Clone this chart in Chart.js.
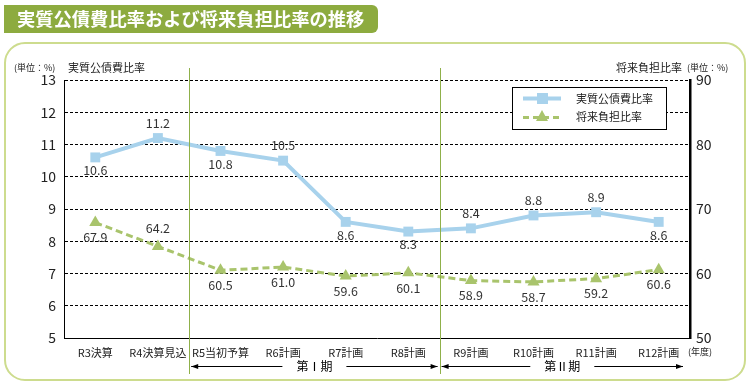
<!DOCTYPE html>
<html>
<head>
<meta charset="utf-8">
<script src="https://cdn.jsdelivr.net/npm/chart.js@4"></script>
<style>
  html, body { margin: 0; padding: 0; background: #fff; }
  #wrap { width: 752px; height: 387px; position: relative; }
</style>
</head>
<body>
<div id="wrap"><canvas id="chart" width="752" height="387"></canvas></div>
<script>
"use strict";

const years = ['R3決算', 'R4決算見込', 'R5当初予算', 'R6計画', 'R7計画', 'R8計画', 'R9計画', 'R10計画', 'R11計画', 'R12計画'];
const debtRatio = [10.6, 11.2, 10.8, 10.5, 8.6, 8.3, 8.4, 8.8, 8.9, 8.6];
const burdenRatio = [67.9, 64.2, 60.5, 61.0, 59.6, 60.1, 58.9, 58.7, 59.2, 60.6];
// label above (-1) or below (+1) each point
const debtLabelSide = [1, -1, 1, -1, 1, 1, -1, -1, -1, 1];
const burdenLabelSide = [1, -1, 1, 1, 1, 1, 1, 1, 1, 1];

const FONT = '"Noto Sans CJK JP", "Noto Sans", sans-serif';
const BLUE = '#a8d2ec';
const GREEN = '#a9c46c';

function roundRect(ctx, x, y, w, h, r) {
    ctx.beginPath();
    ctx.moveTo(x + r, y);
    ctx.lineTo(x + w - r, y);
    ctx.arcTo(x + w, y, x + w, y + r, r);
    ctx.lineTo(x + w, y + h - r);
    ctx.arcTo(x + w, y + h, x + w - r, y + h, r);
    ctx.lineTo(x + r, y + h);
    ctx.arcTo(x, y + h, x, y + h - r, r);
    ctx.lineTo(x, y + r);
    ctx.arcTo(x, y, x + r, y, r);
    ctx.closePath();
}

function arrowHead(ctx, x, y, dir) {
    ctx.beginPath();
    ctx.moveTo(x, y);
    ctx.lineTo(x - dir * 7, y - 2.5);
    ctx.lineTo(x - dir * 7, y + 2.5);
    ctx.closePath();
    ctx.fill();
}

const decor = {
    id: 'decor',
    beforeDraw(chart) {
        const ctx = chart.ctx;
        ctx.save();
        // outer frame
        roundRect(ctx, 5, 43, 740, 337, 20);
        ctx.strokeStyle = '#cddc8e';
        ctx.lineWidth = 2;
        ctx.stroke();
        // title banner
        ctx.fillStyle = '#8dab3f';
        roundRect(ctx, 4, 5, 374, 28, 6);
        ctx.fill();
        ctx.fillRect(4, 5, 20, 28);
        ctx.fillStyle = '#fff';
        ctx.font = 'bold 18.3px ' + FONT;
        ctx.textBaseline = 'middle';
        ctx.textAlign = 'left';
        ctx.fillText('実質公債費比率および将来負担比率の推移', 17, 19.5);
        ctx.restore();
    },
    afterDatasetsDraw(chart) {
        const ctx = chart.ctx;
        const x = chart.scales.x;
        const area = chart.chartArea;
        ctx.save();

        // period separators
        const sep1 = (x.getPixelForValue(1) + x.getPixelForValue(2)) / 2;
        const sep2 = (x.getPixelForValue(5) + x.getPixelForValue(6)) / 2;
        ctx.strokeStyle = '#8fb04a';
        ctx.lineWidth = 1;
        [sep1, sep2].forEach(sx => {
            ctx.beginPath();
            ctx.moveTo(Math.round(sx) + 0.5, 68);
            ctx.lineTo(Math.round(sx) + 0.5, 374);
            ctx.stroke();
        });

        // period arrows
        const ay = 366.5;
        const periods = [[sep1 + 2, sep2 - 2, '第Ⅰ期'], [sep2 + 2, area.right - 7, '第Ⅱ期']];
        ctx.strokeStyle = '#000';
        ctx.fillStyle = '#000';
        ctx.font = '12px ' + FONT;
        ctx.textAlign = 'center';
        ctx.textBaseline = 'middle';
        periods.forEach(([a, b, t]) => {
            const mid = (a + b) / 2;
            ctx.beginPath();
            ctx.moveTo(a, ay); ctx.lineTo(mid - 32, ay);
            ctx.moveTo(mid + 32, ay); ctx.lineTo(b, ay);
            ctx.stroke();
            arrowHead(ctx, a, ay, -1);
            arrowHead(ctx, b, ay, 1);
            ctx.fillText(t, mid, ay);
        });

        // axis titles
        ctx.fillStyle = '#222';
        ctx.font = '9px ' + FONT;
        ctx.textAlign = 'left';
        ctx.fillText('(単位：%)', 14, 68);
        ctx.font = '11px ' + FONT;
        ctx.fillText('実質公債費比率', 68, 68);
        ctx.textAlign = 'right';
        ctx.fillText('将来負担比率', 682, 68);
        ctx.font = '9px ' + FONT;
        ctx.textAlign = 'left';
        ctx.fillText('(単位：%)', 687, 68);
        ctx.fillText('(年度)', 688, 352);

        // data labels
        ctx.fillStyle = '#333';
        ctx.font = '12.5px ' + FONT;
        ctx.textAlign = 'center';
        const m0 = chart.getDatasetMeta(0).data;
        m0.forEach((p, i) => {
            const off = debtLabelSide[i] < 0 ? -15 : 13;
            ctx.fillText(debtRatio[i].toFixed(1), p.x, p.y + off);
        });
        const m1 = chart.getDatasetMeta(1).data;
        m1.forEach((p, i) => {
            const off = burdenLabelSide[i] < 0 ? -18 : 15;
            ctx.fillText(burdenRatio[i].toFixed(1), p.x, p.y + off);
        });

        // legend box
        ctx.fillStyle = '#fff';
        ctx.fillRect(512, 87, 155, 43);
        ctx.strokeStyle = '#000';
        ctx.lineWidth = 1;
        ctx.strokeRect(512.5, 87.5, 154, 42);
        ctx.strokeStyle = BLUE;
        ctx.lineWidth = 4;
        ctx.beginPath(); ctx.moveTo(523, 98.5); ctx.lineTo(561, 98.5); ctx.stroke();
        ctx.fillStyle = BLUE;
        ctx.fillRect(537, 93, 11, 11);
        ctx.strokeStyle = GREEN;
        ctx.lineWidth = 3;
        ctx.setLineDash([6, 4]);
        ctx.beginPath(); ctx.moveTo(523, 117.5); ctx.lineTo(561, 117.5); ctx.stroke();
        ctx.setLineDash([]);
        ctx.fillStyle = GREEN;
        ctx.beginPath();
        ctx.moveTo(542, 110); ctx.lineTo(548, 121); ctx.lineTo(536, 121); ctx.closePath();
        ctx.fill();
        ctx.fillStyle = '#222';
        ctx.font = '11px ' + FONT;
        ctx.textAlign = 'left';
        ctx.fillText('実質公債費比率', 576, 99);
        ctx.fillText('将来負担比率', 576, 117);

        ctx.restore();
    }
};

new Chart(document.getElementById('chart'), {
    type: 'line',
    data: {
        labels: years,
        datasets: [{
            label: '実質公債費比率',
            data: debtRatio,
            yAxisID: 'y',
            borderColor: BLUE,
            backgroundColor: BLUE,
            borderWidth: 4,
            pointStyle: 'rect',
            pointRadius: 7,
            pointBorderWidth: 0,
            tension: 0
        }, {
            label: '将来負担比率',
            data: burdenRatio,
            yAxisID: 'y1',
            borderColor: GREEN,
            backgroundColor: GREEN,
            borderWidth: 3,
            borderDash: [7, 4],
            pointStyle: 'triangle',
            pointRadius: 7,
            pointBorderWidth: 0,
            tension: 0
        }]
    },
    options: {
        responsive: false,
        animation: false,
        layout: { padding: { left: 20, right: 30, top: 80, bottom: 25 } },
        plugins: { legend: { display: false }, tooltip: { enabled: false } },
        scales: {
            x: {
                offset: true,
                grid: { display: false, drawTicks: false },
                border: { display: true, color: '#000', width: 1 },
                ticks: { color: '#222', font: { family: FONT, size: 11 }, padding: 8, maxRotation: 0, minRotation: 0, autoSkip: false },
                afterFit: (axis) => { axis.height = 24; }
            },
            y: {
                position: 'left',
                min: 5,
                max: 13,
                ticks: { stepSize: 1, color: '#222', font: { family: FONT, size: 14 }, padding: 8 },
                grid: {
                    drawTicks: false,
                    color: (c) => c.tick && c.tick.value === 5 ? 'rgba(0,0,0,0)' : '#000'
                },
                border: { display: true, color: '#000', width: 1, dash: [3, 2] },
                afterFit: (axis) => { axis.width = 44; }
            },
            y1: {
                position: 'right',
                min: 50,
                max: 90,
                ticks: { stepSize: 10, color: '#222', font: { family: FONT, size: 14 }, padding: 6 },
                grid: { display: false, drawTicks: false },
                border: { display: true, color: '#000', width: 2.5 },
                afterFit: (axis) => { axis.width = 32; }
            }
        }
    },
    plugins: [decor]
});
</script>
</body>
</html>
